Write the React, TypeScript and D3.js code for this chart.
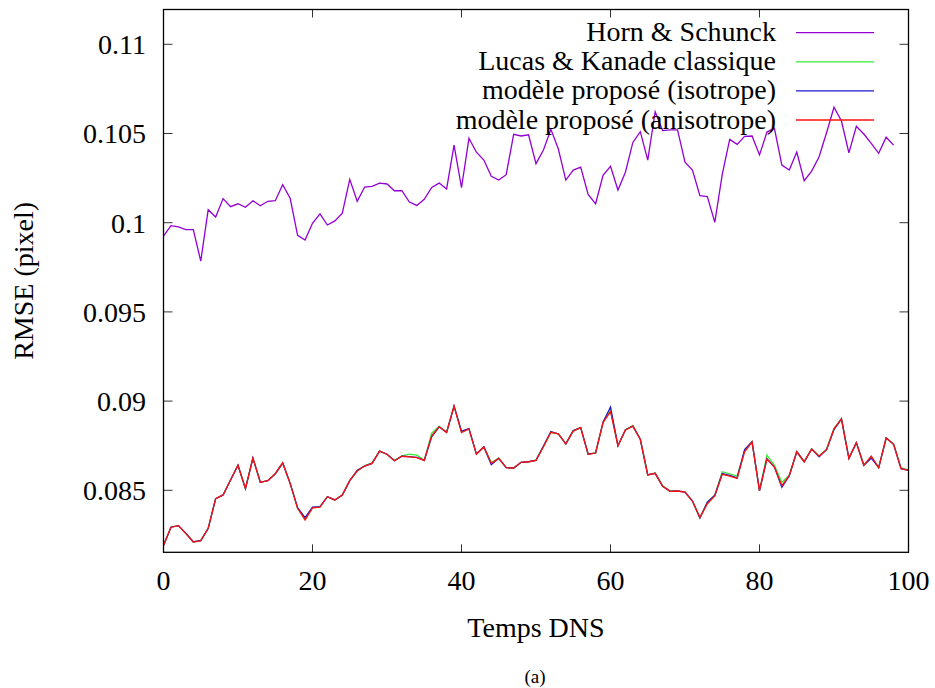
import * as d3 from 'd3';

// Temps DNS index for each series
const hornSchunck = [
  0.09925, 0.09983, 0.09976, 0.09961, 0.09961, 0.09785, 0.10073, 0.10032, 0.10135, 0.1009,
  0.10106, 0.10086, 0.10123, 0.10095, 0.1012, 0.10123, 0.10213, 0.10137, 0.09929, 0.09903,
  0.09997, 0.10049, 0.09987, 0.1001, 0.10053, 0.10243, 0.1012, 0.102, 0.10204, 0.10222,
  0.10217, 0.10179, 0.10179, 0.10116, 0.10097, 0.10131, 0.10198, 0.10222, 0.10189, 0.10435,
  0.10196, 0.10473, 0.10395, 0.10351, 0.1026, 0.10239, 0.10269, 0.10495, 0.10486, 0.10493,
  0.10331, 0.10407, 0.10523, 0.10413, 0.10239, 0.10295, 0.10312, 0.10159, 0.10106, 0.10266,
  0.10316, 0.10183, 0.10283, 0.1045, 0.1051, 0.10351, 0.10622, 0.10516, 0.1052, 0.1052,
  0.10339, 0.10295, 0.10151, 0.10146, 0.10002, 0.10271, 0.10467, 0.10439, 0.10484, 0.10486,
  0.1038, 0.10508, 0.10529, 0.10323, 0.10295, 0.10396, 0.10235, 0.10289, 0.1037, 0.10504,
  0.10647, 0.1057, 0.10391, 0.1054, 0.10497, 0.10445, 0.10389, 0.10479, 0.10435,
];

const lucasKanade = [
  0.0819, 0.08293, 0.08302, 0.08257, 0.0821, 0.08218, 0.08287, 0.08453, 0.08474, 0.08558,
  0.0864, 0.08509, 0.08681, 0.08545, 0.08554, 0.08593, 0.08653, 0.08539, 0.08399, 0.0834,
  0.08402, 0.08406, 0.08464, 0.08446, 0.08474, 0.08554, 0.08608, 0.08638, 0.08654, 0.0872,
  0.08702, 0.08668, 0.08693, 0.08703, 0.08697, 0.08668, 0.0882, 0.08858, 0.08825, 0.08972,
  0.08826, 0.08844, 0.08703, 0.08743, 0.08654, 0.08682, 0.08627, 0.08625, 0.08657, 0.0866,
  0.0867, 0.08746, 0.08825, 0.08816, 0.0876, 0.08832, 0.08851, 0.08704, 0.0871, 0.0888,
  0.0895, 0.0875, 0.0884, 0.08864, 0.08786, 0.08586, 0.08597, 0.08526, 0.08497, 0.08497,
  0.0849, 0.0844, 0.08347, 0.08433, 0.08472, 0.08604, 0.08592, 0.0858, 0.0872, 0.08772,
  0.08498, 0.08698, 0.0864, 0.08545, 0.08585, 0.08716, 0.0866, 0.08733, 0.08693, 0.0873,
  0.08848, 0.08902, 0.08679, 0.08767, 0.08642, 0.08688, 0.08627, 0.08793, 0.0876, 0.08625,
  0.08614,
];

const isotrope = [
  0.0819, 0.08293, 0.08302, 0.0826, 0.08212, 0.08218, 0.08287, 0.08453, 0.08474, 0.08558,
  0.0864, 0.08509, 0.08681, 0.08545, 0.08554, 0.08593, 0.08653, 0.08539, 0.08403, 0.08347,
  0.08406, 0.08408, 0.08464, 0.08446, 0.08474, 0.08554, 0.08612, 0.08636, 0.08651, 0.0872,
  0.08702, 0.08666, 0.08691, 0.08689, 0.08685, 0.08668, 0.088, 0.08856, 0.08825, 0.08972,
  0.08832, 0.08846, 0.08703, 0.08743, 0.08644, 0.08679, 0.08627, 0.08625, 0.08657, 0.0866,
  0.08668, 0.08748, 0.0883, 0.08816, 0.0876, 0.08835, 0.08851, 0.08702, 0.08709, 0.08882,
  0.08967, 0.0875, 0.08838, 0.0886, 0.08786, 0.08586, 0.08595, 0.08522, 0.08494, 0.08496,
  0.0849, 0.0844, 0.08345, 0.08433, 0.08472, 0.08594, 0.08584, 0.0857, 0.08728, 0.08772,
  0.08498, 0.08678, 0.0863, 0.08517, 0.08582, 0.08716, 0.0866, 0.08731, 0.08688, 0.08728,
  0.0884, 0.089, 0.08679, 0.08767, 0.0864, 0.0868, 0.08627, 0.08793, 0.08758, 0.08621,
  0.08612,
];

const anisotrope = [
  0.0819, 0.08293, 0.08302, 0.08257, 0.0821, 0.08218, 0.08287, 0.08453, 0.08474, 0.08558,
  0.0864, 0.08509, 0.08681, 0.08545, 0.08554, 0.08593, 0.08653, 0.08539, 0.08399, 0.08334,
  0.08402, 0.08406, 0.08464, 0.08446, 0.08474, 0.08554, 0.08608, 0.08636, 0.08651, 0.0872,
  0.08702, 0.08666, 0.08691, 0.08687, 0.08683, 0.08668, 0.08806, 0.08856, 0.08825, 0.08972,
  0.08823, 0.08844, 0.08703, 0.08743, 0.08651, 0.08679, 0.08627, 0.08625, 0.08657, 0.0866,
  0.08668, 0.08744, 0.08825, 0.08816, 0.0876, 0.08832, 0.08851, 0.08702, 0.08709, 0.0888,
  0.08941, 0.0875, 0.08838, 0.0886, 0.08786, 0.08586, 0.08595, 0.08522, 0.08494, 0.08496,
  0.0849, 0.0844, 0.08347, 0.08425, 0.08468, 0.0859, 0.0858, 0.08567, 0.08716, 0.08772,
  0.08498, 0.08675, 0.0863, 0.08526, 0.08582, 0.08716, 0.0866, 0.08731, 0.08691, 0.08728,
  0.08844, 0.089, 0.08679, 0.08767, 0.0864, 0.08692, 0.08627, 0.08793, 0.08758, 0.08621,
  0.08612,
];

const xTicks = [0, 20, 40, 60, 80, 100];
const yTicks = [0.085, 0.09, 0.095, 0.1, 0.105, 0.11];
const yTickLabels = ['0.085', '0.09', '0.095', '0.1', '0.105', '0.11'];

const seriesNames = [
  'Horn & Schunck',
  'Lucas & Kanade classique',
  'modèle proposé (isotrope)',
  'modèle proposé (anisotrope)',
];
const seriesData = [hornSchunck, lucasKanade, isotrope, anisotrope];
const seriesColors = ['#9400d3', '#33ee33', '#1a1acc', '#ff1111'];

const W = 935;
const H = 688;
const left = 163.5;
const right = 908.5;
const top = 9.5;
const bottom = 552.3;
const txt = {
  fontFamily: "'Liberation Serif', Tinos, 'Times New Roman', Times, 'Nimbus Roman', 'DejaVu Serif', 'Noto Serif', serif",
  fill: '#000',
};

export default function App() {
  const x = d3.scaleLinear().domain([0, 100]).range([left, right]);
  const y = d3.scaleLinear().domain([0.081525, 0.11195]).range([bottom, top]);

  const line = d3
    .line<number>()
    .x((_, i) => x(i))
    .y((d) => y(d));

  return (
    <div style={{ position: 'absolute', left: 0, top: 0 }}>
      <svg width={W} height={H} style={{ display: 'block', background: '#fff' }}>
        {/* ticks, mirrored on all four sides */}
        <g stroke="#333" strokeWidth={1}>
          {xTicks.map((t) => (
            <g key={'x' + t}>
              <line x1={x(t)} x2={x(t)} y1={bottom} y2={bottom - 8} />
              <line x1={x(t)} x2={x(t)} y1={top} y2={top + 8} />
            </g>
          ))}
          {yTicks.map((t) => (
            <g key={'y' + t}>
              <line x1={left} x2={left + 9} y1={y(t)} y2={y(t)} />
              <line x1={right} x2={right - 9} y1={y(t)} y2={y(t)} />
            </g>
          ))}
        </g>

        {xTicks.map((t) => (
          <text key={'xl' + t} x={x(t)} y={590} fontSize={28} textAnchor="middle" style={txt}>
            {t}
          </text>
        ))}
        {yTicks.map((t, i) => (
          <text key={'yl' + t} x={146} y={y(t) + 10} fontSize={28} textAnchor="end" style={txt}>
            {yTickLabels[i]}
          </text>
        ))}

        <text x={(left + right) / 2} y={637} fontSize={28} textAnchor="middle" style={txt}>
          Temps DNS
        </text>
        <text
          transform={`translate(33,${(top + bottom) / 2}) rotate(-90)`}
          fontSize={28}
          textAnchor="middle"
          style={txt}
        >
          RMSE (pixel)
        </text>
        <text x={535} y={683} fontSize={19} textAnchor="middle" style={txt}>
          (a)
        </text>

        {/* key + series, in gnuplot drawing order */}
        {seriesData.map((data, i) => {
          const ky = 32.7 + i * 29.1;
          return (
            <g key={seriesNames[i]}>
              <text x={776} y={ky + 8.5} fontSize={28} textAnchor="end" style={txt}>
                {seriesNames[i]}
              </text>
              <line x1={796} x2={874} y1={ky} y2={ky} stroke={seriesColors[i]} strokeWidth={1.3} />
              <path
                d={line(data) ?? ''}
                fill="none"
                stroke={seriesColors[i]}
                strokeWidth={1.3}
                strokeLinejoin="miter"
              />
            </g>
          );
        })}

        <rect
          x={left}
          y={top}
          width={right - left}
          height={bottom - top}
          fill="none"
          stroke="#000"
          strokeWidth={1.3}
        />
      </svg>
    </div>
  );
}
